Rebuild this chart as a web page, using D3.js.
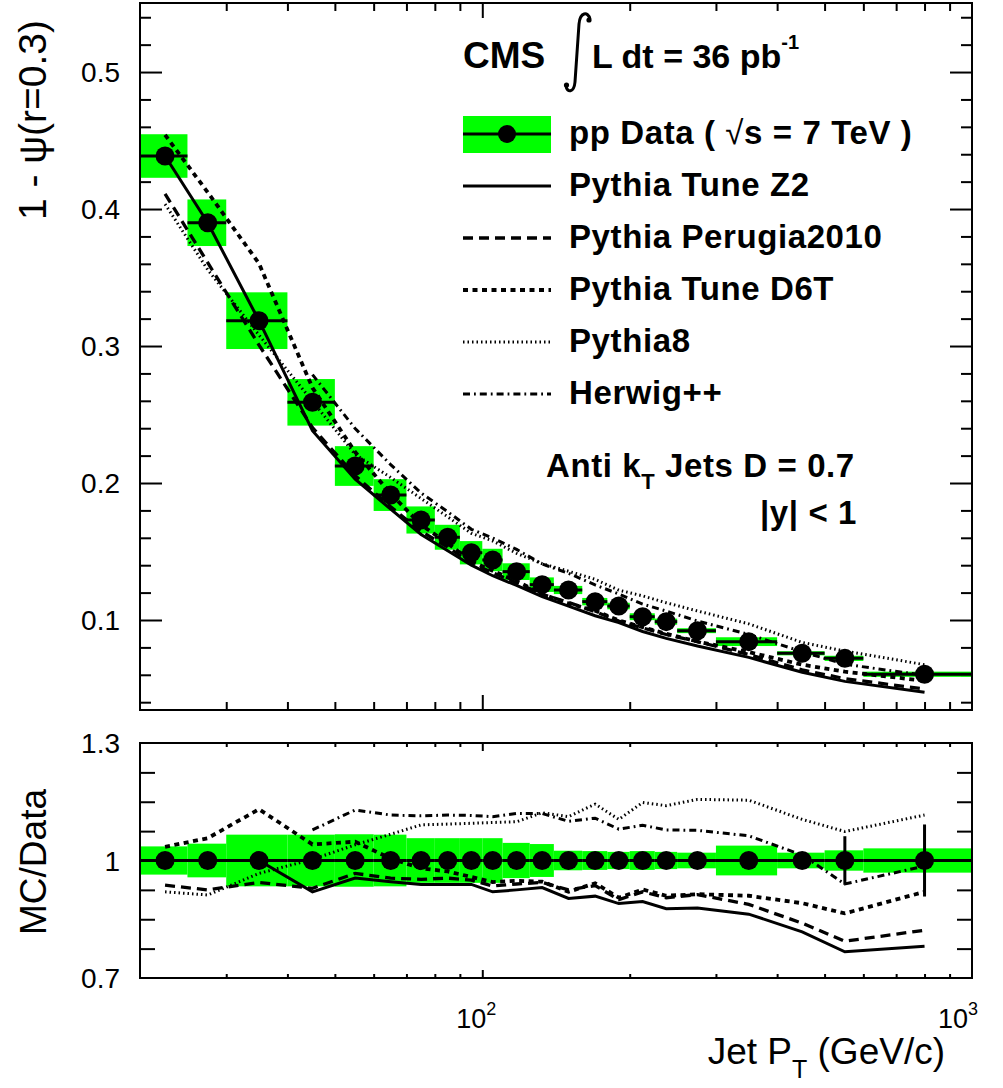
<!DOCTYPE html>
<html><head><meta charset="utf-8">
<script src="https://cdn.jsdelivr.net/npm/d3@7"></script>
<style>
body{margin:0;background:#fff;}
svg{display:block;font-family:"Liberation Sans",Arial,Helvetica,sans-serif;}
</style></head><body>
<svg id="c" width="1003" height="1088"></svg>
<script>
// ---------------- data ----------------
const binEdges   = [20,25,30,40,50,60,70,80,90,100,110,125,140,160,180,200,225,250,300,400,500,600,1000];
const binCenters = [22.5,27.5,35,45,55,65,75,85,95,105,117.5,132.5,150,170,190,212.5,237.5,275,350,450,550,800];

const dataVal  = [0.4387,0.3900,0.3185,0.2589,0.2124,0.1912,0.1730,0.1604,0.1491,0.1438,0.1353,0.1258,0.1219,0.1134,0.1102,0.1024,0.0988,0.0922,0.0842,0.0757,0.0720,0.0604];
const dataSys  = [0.0159,0.0170,0.0207,0.0170,0.0145,0.0116,0.0099,0.0091,0.0085,0.0082,0.0061,0.0053,0.0030,0.0027,0.0024,0.0025,0.0022,0.0018,0.0032,0.0015,0.0019,0.0019];
const dataStat = [0.0005,0.0005,0.0005,0.0005,0.0005,0.0005,0.0005,0.0005,0.0005,0.0005,0.0005,0.0005,0.0005,0.0005,0.0005,0.0005,0.0006,0.0006,0.0008,0.0011,0.0045,0.0056];

const z2Top      = [0.4387,0.3900,0.3185,0.2382,0.2028,0.1809,0.1624,0.1506,0.1400,0.1323,0.1252,0.1171,0.1101,0.1031,0.0981,0.0916,0.0866,0.0810,0.0727,0.0619,0.0552,0.0472];
const perugiaTop = [0.4111,0.3608,0.3007,0.2405,0.2054,0.1826,0.1647,0.1532,0.1416,0.1345,0.1272,0.1188,0.1128,0.1061,0.0992,0.0942,0.0894,0.0842,0.0748,0.0636,0.0572,0.0496];
const d6tTop     = [0.4541,0.4122,0.3602,0.2695,0.2226,0.1922,0.1695,0.1559,0.1428,0.1359,0.1283,0.1190,0.1121,0.1068,0.0997,0.0948,0.0899,0.0843,0.0766,0.0674,0.0623,0.0556];
const pythia8Top = [0.4036,0.3557,0.3080,0.2597,0.2209,0.2040,0.1887,0.1753,0.1633,0.1577,0.1487,0.1411,0.1356,0.1297,0.1218,0.1176,0.1126,0.1066,0.0972,0.0836,0.0773,0.0674];
const herwigTop  = [null,null,null,0.2791,0.2398,0.2134,0.1927,0.1790,0.1662,0.1599,0.1515,0.1409,0.1341,0.1256,0.1190,0.1116,0.1065,0.0993,0.0895,0.0768,0.0677,0.0596];

const ratioData = [1,1,1,1,1,1,1,1,1,1,1,1,1,1,1,1,1,1,1,1,1,1];
const ratioSys  = [0.036,0.043,0.066,0.066,0.067,0.066,0.057,0.057,0.057,0.057,0.045,0.042,0.025,0.024,0.022,0.024,0.022,0.020,0.038,0.020,0.026,0.031];
const ratioStat = [0.002,0.002,0.002,0.002,0.002,0.002,0.003,0.003,0.003,0.003,0.004,0.004,0.005,0.005,0.006,0.006,0.007,0.007,0.010,0.015,0.062,0.092];

const z2Ratio      = [1.000,1.000,1.000,0.920,0.955,0.946,0.939,0.939,0.939,0.920,0.925,0.931,0.903,0.909,0.890,0.895,0.877,0.879,0.863,0.818,0.767,0.781];
const perugiaRatio = [0.937,0.925,0.944,0.929,0.967,0.955,0.952,0.955,0.950,0.935,0.940,0.944,0.925,0.936,0.900,0.920,0.905,0.913,0.888,0.840,0.794,0.822];
const d6tRatio     = [1.035,1.057,1.131,1.041,1.048,1.005,0.980,0.972,0.958,0.945,0.948,0.946,0.920,0.942,0.905,0.926,0.910,0.914,0.910,0.891,0.865,0.920];
const pythia8Ratio = [0.920,0.912,0.967,1.003,1.040,1.067,1.091,1.093,1.095,1.097,1.099,1.122,1.112,1.144,1.105,1.148,1.140,1.156,1.154,1.105,1.074,1.116];
const herwigRatio  = [null,null,null,1.078,1.129,1.116,1.114,1.116,1.115,1.112,1.120,1.120,1.100,1.108,1.080,1.090,1.078,1.077,1.063,1.014,0.940,0.986];

const seriesNames = ["Pythia Tune Z2","Pythia Perugia2010","Pythia Tune D6T","Pythia8","Herwig++"];
const yTicksTop = [0.1,0.2,0.3,0.4,0.5];
const yTickLabelsTop = ["0.1","0.2","0.3","0.4","0.5"];
const yTicksBottom = [0.7,1,1.3];
const yTickLabelsBottom = ["0.7","1","1.3"];
const xLabelTicks = [100,1000];
const xLabelExp = ["2","3"];

// ---------------- layout ----------------
const L = 140, R = 972;
const topP = {t:3, b:710};
const botP = {t:743, b:978};
const svg = d3.select("#c");

const x = d3.scaleLog().domain([20,1000]).range([L,R]);
const yT = d3.scaleLinear().domain([0.0343,0.5504]).range([topP.b, topP.t]);
const yB = d3.scaleLinear().domain([0.7,1.3]).range([botP.b, botP.t]);

const styles = [
  {dash:null, w:3},
  {dash:"10,6", w:3.3},
  {dash:"5,4.5", w:3.8},
  {dash:"1.5,3", w:3},
  {dash:"7,4,1.8,4", w:3}
];
const GREEN = "#00ff00";

const defs = svg.append("defs");
defs.append("clipPath").attr("id","clipT").append("rect").attr("x",L).attr("y",topP.t).attr("width",R-L).attr("height",topP.b-topP.t);
defs.append("clipPath").attr("id","clipB").append("rect").attr("x",L).attr("y",botP.t).attr("width",R-L).attr("height",botP.b-botP.t);

const xMinor = [30,40,50,60,70,80,90,200,300,400,500,600,700,800,900];
function strip(s){ s.select(".domain").remove(); s.selectAll("line").attr("stroke","#000").attr("stroke-width",2); }

function drawAxes(g, y, P, yMaj, yMin, yMajLen, yMinLen, xMajLen, xMinLen){
  g.append("g").attr("transform",`translate(${L},0)`).call(d3.axisLeft(y).tickValues(yMaj).tickSize(-yMajLen).tickFormat("")).call(strip);
  g.append("g").attr("transform",`translate(${L},0)`).call(d3.axisLeft(y).tickValues(yMin).tickSize(-yMinLen).tickFormat("")).call(strip);
  g.append("g").attr("transform",`translate(${R},0)`).call(d3.axisRight(y).tickValues(yMaj).tickSize(-yMajLen).tickFormat("")).call(strip);
  g.append("g").attr("transform",`translate(${R},0)`).call(d3.axisRight(y).tickValues(yMin).tickSize(-yMinLen).tickFormat("")).call(strip);
  g.append("g").attr("transform",`translate(0,${P.b})`).call(d3.axisBottom(x).tickValues([100]).tickSize(-xMajLen).tickFormat("")).call(strip);
  g.append("g").attr("transform",`translate(0,${P.b})`).call(d3.axisBottom(x).tickValues(xMinor).tickSize(-xMinLen).tickFormat("")).call(strip);
  g.append("g").attr("transform",`translate(0,${P.t})`).call(d3.axisTop(x).tickValues([100]).tickSize(-xMajLen).tickFormat("")).call(strip);
  g.append("g").attr("transform",`translate(0,${P.t})`).call(d3.axisTop(x).tickValues(xMinor).tickSize(-xMinLen).tickFormat("")).call(strip);
}

// ---------------- top panel ----------------
const gT = svg.append("g");
const yMinTop = d3.range(0.04,0.55,0.02).filter(v => Math.abs(v*10-Math.round(v*10))>1e-6);
drawAxes(gT, yT, topP, yTicksTop, yMinTop, 22, 11, 15, 8);

const gTc = gT.append("g").attr("clip-path","url(#clipT)");
gTc.selectAll("rect.sys").data(dataVal).join("rect")
  .attr("x",(d,i)=>x(binEdges[i])).attr("width",(d,i)=>x(binEdges[i+1])-x(binEdges[i]))
  .attr("y",(d,i)=>yT(d+dataSys[i])).attr("height",(d,i)=>yT(d-dataSys[i])-yT(d+dataSys[i]))
  .attr("fill",GREEN);

const topSeries = [z2Top, perugiaTop, d6tTop, pythia8Top, herwigTop];
const lineT = d3.line().defined(d=>d.v!=null).x(d=>x(d.x)).y(d=>yT(d.v));
topSeries.forEach((arr,k)=>{
  gTc.append("path").datum(arr.map((v,i)=>({x:binCenters[i],v})))
    .attr("d",lineT).attr("fill","none").attr("stroke","#000")
    .attr("stroke-width",styles[k].w).attr("stroke-dasharray",styles[k].dash);
});
gTc.selectAll("line.xe").data(dataVal).join("line")
  .attr("x1",(d,i)=>x(binEdges[i])).attr("x2",(d,i)=>x(binEdges[i+1]))
  .attr("y1",d=>yT(d)).attr("y2",d=>yT(d)).attr("stroke","#000").attr("stroke-width",3);
gTc.selectAll("line.ye").data(dataVal).join("line")
  .attr("x1",(d,i)=>x(binCenters[i])).attr("x2",(d,i)=>x(binCenters[i]))
  .attr("y1",(d,i)=>yT(d-dataStat[i])).attr("y2",(d,i)=>yT(d+dataStat[i])).attr("stroke","#000").attr("stroke-width",3);
gTc.selectAll("circle").data(dataVal).join("circle")
  .attr("cx",(d,i)=>x(binCenters[i])).attr("cy",d=>yT(d)).attr("r",9.5).attr("fill","#000");

gT.append("rect").attr("x",L).attr("y",topP.t).attr("width",R-L).attr("height",topP.b-topP.t)
  .attr("fill","none").attr("stroke","#000").attr("stroke-width",2);

gT.selectAll("text.yl").data(yTicksTop).join("text")
  .attr("x",120).attr("y",d=>yT(d)+10).attr("text-anchor","end")
  .attr("font-size",28).text((d,i)=>yTickLabelsTop[i]);

gT.append("text").attr("transform","translate(46,20) rotate(-90)").attr("text-anchor","end")
  .attr("font-size",39).text("1 - ψ(r=0.3)");

// ---------------- bottom panel ----------------
const gB = svg.append("g");
const yMinBot = [0.775,0.85,0.925,1.075,1.15,1.225];
drawAxes(gB, yB, botP, [1], yMinBot, 30, 15, 8, 4);
const gBc = gB.append("g").attr("clip-path","url(#clipB)");
gBc.selectAll("rect.sys").data(ratioData).join("rect")
  .attr("x",(d,i)=>x(binEdges[i])).attr("width",(d,i)=>x(binEdges[i+1])-x(binEdges[i]))
  .attr("y",(d,i)=>yB(d+ratioSys[i])).attr("height",(d,i)=>yB(d-ratioSys[i])-yB(d+ratioSys[i]))
  .attr("fill",GREEN);
const ratioSeries = [z2Ratio, perugiaRatio, d6tRatio, pythia8Ratio, herwigRatio];
const lineB = d3.line().defined(d=>d.v!=null).x(d=>x(d.x)).y(d=>yB(d.v));
ratioSeries.forEach((arr,k)=>{
  gBc.append("path").datum(arr.map((v,i)=>({x:binCenters[i],v})))
    .attr("d",lineB).attr("fill","none").attr("stroke","#000")
    .attr("stroke-width",styles[k].w).attr("stroke-dasharray",styles[k].dash);
});
gBc.selectAll("line.xe").data(ratioData).join("line")
  .attr("x1",(d,i)=>x(binEdges[i])).attr("x2",(d,i)=>x(binEdges[i+1]))
  .attr("y1",d=>yB(d)).attr("y2",d=>yB(d)).attr("stroke","#000").attr("stroke-width",3);
gBc.selectAll("line.ye").data(ratioData).join("line")
  .attr("x1",(d,i)=>x(binCenters[i])).attr("x2",(d,i)=>x(binCenters[i]))
  .attr("y1",(d,i)=>yB(d-ratioStat[i])).attr("y2",(d,i)=>yB(d+ratioStat[i])).attr("stroke","#000").attr("stroke-width",3);
gBc.selectAll("circle").data(ratioData).join("circle")
  .attr("cx",(d,i)=>x(binCenters[i])).attr("cy",d=>yB(d)).attr("r",9.5).attr("fill","#000");
gB.append("rect").attr("x",L).attr("y",botP.t).attr("width",R-L).attr("height",botP.b-botP.t)
  .attr("fill","none").attr("stroke","#000").attr("stroke-width",2);

gB.selectAll("text.yl").data(yTicksBottom).join("text")
  .attr("x",120).attr("y",d=>yB(d)+10).attr("text-anchor","end")
  .attr("font-size",28).text((d,i)=>yTickLabelsBottom[i]);
gB.append("text").attr("transform","translate(46,862) rotate(-90)").attr("text-anchor","middle")
  .attr("font-size",37).text("MC/Data");

xLabelTicks.forEach((v,i)=>{
  const t = svg.append("text").attr("x",x(v)-(i===1?14:6)).attr("y",1028).attr("text-anchor","middle").attr("font-size",27);
  t.append("tspan").text("10");
  t.append("tspan").attr("font-size",18).attr("dy",-13).text(xLabelExp[i]);
});
{
  const t = svg.append("text").attr("x",945).attr("y",1064).attr("text-anchor","end").attr("font-size",37);
  t.append("tspan").text("Jet P");
  t.append("tspan").attr("font-size",25).attr("dy",14).text("T");
  t.append("tspan").attr("dy",-14).text(" (GeV/c)");
}

// ---------------- legend & labels ----------------
svg.append("text").attr("x",463).attr("y",68).attr("font-size",37).attr("font-weight","bold").text("CMS");
svg.append("path").attr("d","M590,19 C588,11 580,12 579,24 L575,82 C574,93 567,93 566,86")
  .attr("fill","none").attr("stroke","#000").attr("stroke-width",3);
svg.append("circle").attr("cx",589).attr("cy",20).attr("r",2.6).attr("fill","#000");
svg.append("circle").attr("cx",566.5).attr("cy",85).attr("r",2.6).attr("fill","#000");
{
  const t = svg.append("text").attr("x",592).attr("y",68).attr("font-size",34).attr("font-weight","bold");
  t.append("tspan").text("L dt = 36 pb");
  t.append("tspan").attr("font-size",20).attr("dy",-19).text("-1");
}

const legX0 = 463, legX1 = 551, legTX = 569;
const legRowY = [134, 186, 238, 290, 342, 394];
svg.append("rect").attr("x",legX0).attr("y",116).attr("width",legX1-legX0).attr("height",37).attr("fill",GREEN);
svg.append("line").attr("x1",legX0).attr("x2",legX1).attr("y1",legRowY[0]).attr("y2",legRowY[0]).attr("stroke","#000").attr("stroke-width",3);
svg.append("circle").attr("cx",507).attr("cy",legRowY[0]).attr("r",9).attr("fill","#000");
{
  const t = svg.append("text").attr("x",legTX).attr("y",legRowY[0]+9.5).attr("font-size",33).attr("font-weight","bold").attr("letter-spacing",0.6);
  t.append("tspan").text("pp Data ( ");
  t.append("tspan").text("√").attr("font-weight","normal");
  t.append("tspan").text("s = 7 TeV )");
}
seriesNames.forEach((name,k)=>{
  const yy = legRowY[k+1];
  svg.append("line").attr("x1",legX0).attr("x2",legX1).attr("y1",yy).attr("y2",yy)
    .attr("stroke","#000").attr("stroke-width",styles[k].w).attr("stroke-dasharray",styles[k].dash);
  svg.append("text").attr("x",legTX).attr("y",yy+10).attr("font-size",33).attr("font-weight","bold")
    .attr("letter-spacing",0.6).text(name);
});

{
  const t = svg.append("text").attr("x",546).attr("y",477).attr("font-size",33).attr("font-weight","bold").attr("letter-spacing",0.6);
  t.append("tspan").text("Anti k");
  t.append("tspan").attr("font-size",22).attr("dy",12).text("T");
  t.append("tspan").attr("dy",-12).text(" Jets D = 0.7");
}
svg.append("text").attr("x",760).attr("y",524).attr("font-size",33).attr("font-weight","bold").attr("letter-spacing",0.6).text("|y| < 1");
</script>
</body></html>
